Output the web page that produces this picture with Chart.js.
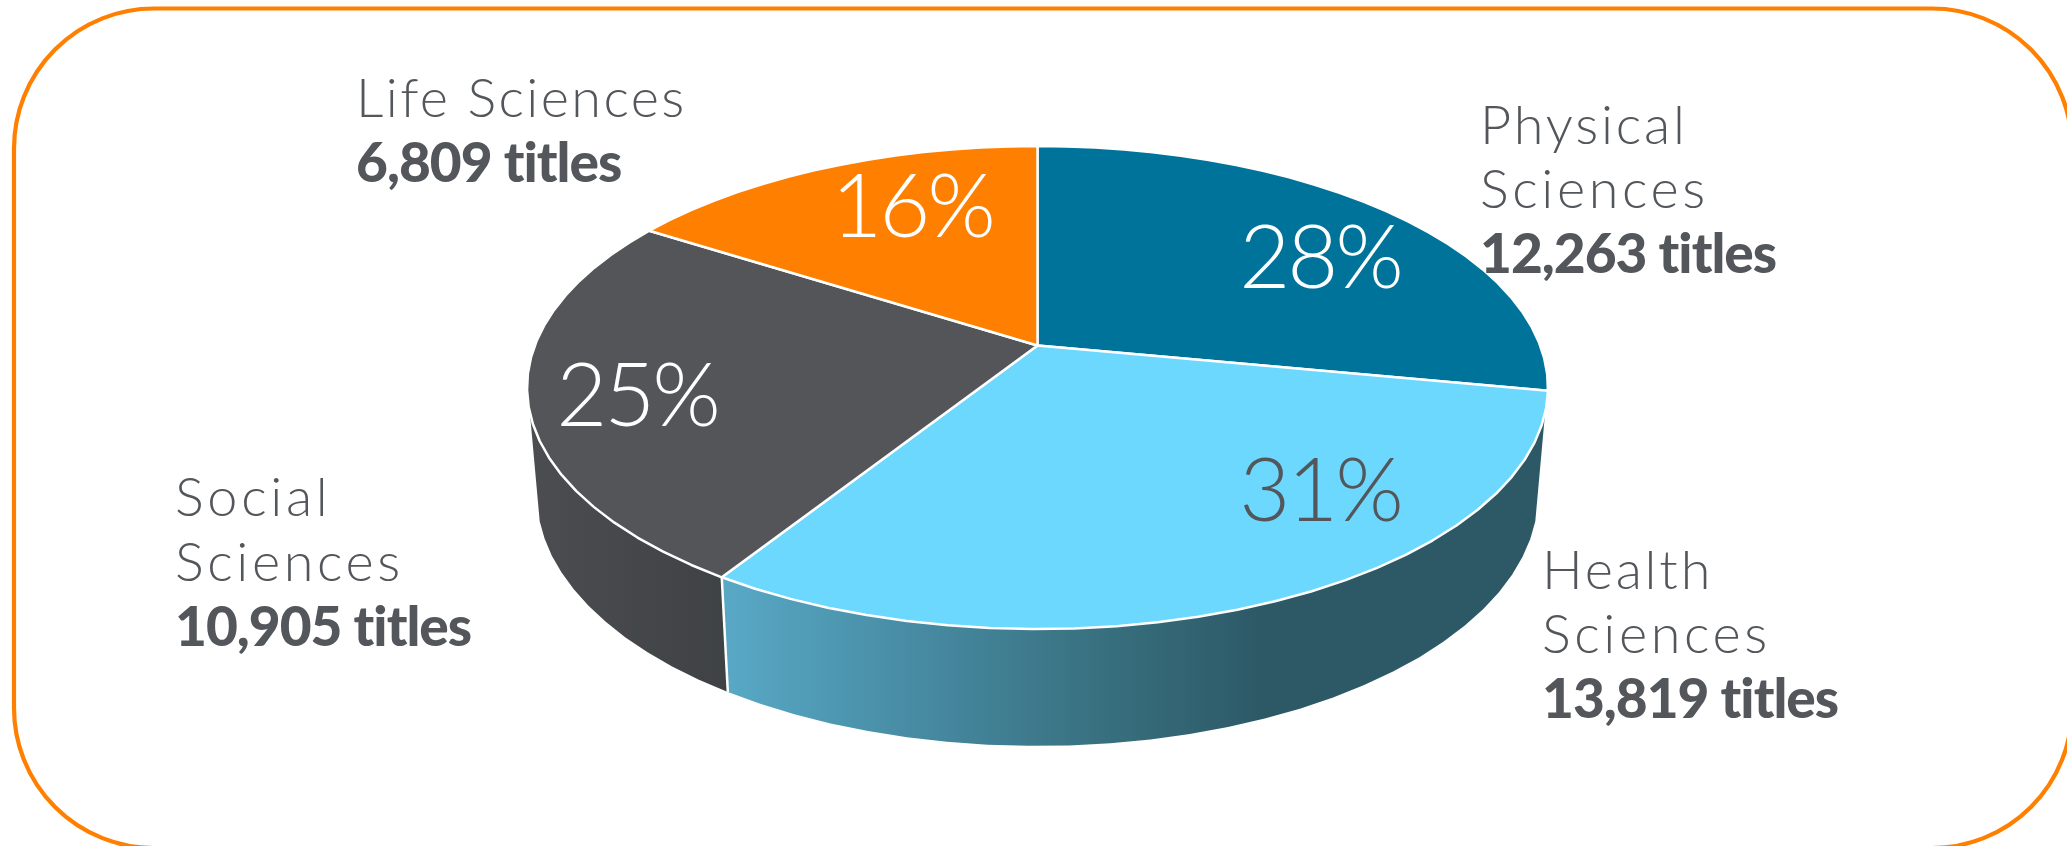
<!DOCTYPE html>
<html>
<head>
<meta charset="utf-8">
<title>Titles by subject area</title>
<style>
  html, body { margin: 0; padding: 0; background: #fff; overflow: hidden; }
  canvas { display: block; }
</style>
<script src="https://cdn.jsdelivr.net/npm/chart.js@4"></script>
</head>
<body>
<canvas id="chart" width="2067" height="846"></canvas>
<script>
// Subject areas, clockwise from twelve o'clock
const categoryLines = [["Physical", "Sciences"], ["Health", "Sciences"], ["Social", "Sciences"], ["Life Sciences"]];
const sharePercent = [28, 31, 25, 16];
const titleCounts = [12263, 13819, 10905, 6809];

const INK = "#53565A";
const sliceColors = ["#00739A", "#6CD8FD", "#535559", "#FF8000"];

// Perspective projection of the pie: unit-circle point -> page pixel.
const topFace = { x: 1037.5, y: 345.5, rx: 502.7, ry: 234.2, k: -0.174 };
const baseRim = { x: 1037.5, y: 451, rx: 493, ry: 243.6, k: -0.174 };
function project(face, angle) {
  const u = Math.cos(angle), v = Math.sin(angle), w = 1 + face.k * v;
  return [face.x + face.rx * u / w, face.y + face.ry * v / w];
}
function traceRim(ctx, face, from, to, first) {
  const steps = Math.max(2, Math.ceil(Math.abs(to - from) / 0.07));
  for (let i = 0; i <= steps; i++) {
    const p = project(face, from + (to - from) * i / steps);
    if (i === 0 && first) ctx.moveTo(p[0], p[1]); else ctx.lineTo(p[0], p[1]);
  }
}

// Arc element that draws its slice on the tilted top face
class PerspectiveArc extends Chart.ArcElement {
  draw(ctx) {
    const o = this.options;
    ctx.save();
    ctx.beginPath();
    ctx.moveTo(topFace.x, topFace.y);
    traceRim(ctx, topFace, this.startAngle, this.endAngle, false);
    ctx.closePath();
    ctx.fillStyle = o.backgroundColor;
    ctx.fill();
    ctx.strokeStyle = o.borderColor;
    ctx.lineWidth = o.borderWidth;
    ctx.lineJoin = "round";
    ctx.stroke();
    ctx.restore();
  }
}
PerspectiveArc.id = "perspectiveArc";

class Pie3DController extends Chart.PieController {}
Pie3DController.id = "pie3d";
Pie3DController.defaults = Object.assign({}, Chart.PieController.defaults, { dataElementType: "perspectiveArc" });

const rad = d => d * Math.PI / 180;

// Outer wall below the front slices, with the rim limits of the visible side
const wallPlugin = {
  id: "pieWalls",
  beforeDatasetsDraw(chart) {
    const ctx = chart.ctx;
    const arcs = chart.getDatasetMeta(0).data;
    const walls = [
      { arc: arcs[1], from: rad(16), to: null, x0: 729, x1: 1260,
        stops: [[0, "#58A8C5"], [0.35, "#478BA3"], [0.7, "#38707F"], [1, "#2D5967"]] },
      { arc: arcs[2], from: null, to: rad(164), x0: 528, x1: 729,
        stops: [[0, "#4B4D50"], [1, "#3F4245"]] }
    ];
    ctx.save();
    walls.forEach(w => {
      const a0 = w.from === null ? w.arc.startAngle : w.from;
      const a1 = w.to === null ? w.arc.endAngle : w.to;
      const g = ctx.createLinearGradient(w.x0, 0, w.x1, 0);
      w.stops.forEach(s => g.addColorStop(s[0], s[1]));
      ctx.beginPath();
      traceRim(ctx, topFace, a0, a1, true);
      traceRim(ctx, baseRim, a1, a0, false);
      ctx.closePath();
      ctx.fillStyle = g;
      ctx.fill();
    });
    // Seam between the two visible walls
    const seam = arcs[1].endAngle;
    const a = project(topFace, seam), b = project(baseRim, seam);
    ctx.beginPath();
    ctx.moveTo(a[0], a[1]);
    ctx.lineTo(b[0], b[1]);
    ctx.strokeStyle = "#FFFFFF";
    ctx.lineWidth = 2.5;
    ctx.stroke();
    ctx.restore();
  }
};

// Rounded orange frame behind everything
const framePlugin = {
  id: "frame",
  beforeDraw(chart) {
    const ctx = chart.ctx;
    ctx.save();
    ctx.beginPath();
    ctx.roundRect(14, 8.5, 2058, 839.5, 140);
    ctx.strokeStyle = "#FF8000";
    ctx.lineWidth = 4.2;
    ctx.stroke();
    ctx.restore();
  }
};

// Percent labels on the slices and name/count captions beside the pie
const percentSpots = [
  { x: 1320, y: 288, color: "#FFFFFF" },
  { x: 1320, y: 521, color: INK },
  { x: 637, y: 426, color: "#FFFFFF" },
  { x: 912, y: 237, color: "#FFFFFF" }
];
const captionSpots = [
  { x: 1480, y: [144, 208, 273], spacing: [2.8, 3.6] },
  { x: 1542, y: [589, 653, 718], spacing: [2.8, 3.6] },
  { x: 175, y: [516, 581, 646], spacing: [3.7, 3.6] },
  { x: 356, y: [117, 182], spacing: [2.4] }
];
const labelPlugin = {
  id: "labels",
  afterDatasetsDraw(chart) {
    const ctx = chart.ctx;
    ctx.save();
    ctx.textBaseline = "alphabetic";
    sharePercent.forEach((p, i) => {
      const s = percentSpots[i];
      ctx.font = "300 88px Lato";
      ctx.letterSpacing = "-3px";
      ctx.textAlign = "center";
      ctx.fillStyle = s.color;
      ctx.fillText(p + "%", s.x, s.y);
    });
    ctx.textAlign = "left";
    ctx.fillStyle = INK;
    categoryLines.forEach((lines, i) => {
      const s = captionSpots[i];
      ctx.font = "300 54px Lato";
      lines.forEach((t, j) => {
        ctx.letterSpacing = s.spacing[j] + "px";
        ctx.fillText(t, s.x, s.y[j]);
      });
      ctx.font = "900 55px Lato";
      ctx.letterSpacing = "-1px";
      ctx.fillText(titleCounts[i].toLocaleString("en-US") + " titles", s.x, s.y[lines.length]);
    });
    ctx.restore();
  }
};

Chart.register(PerspectiveArc, Pie3DController);

new Chart(document.getElementById("chart"), {
  type: "pie3d",
  data: {
    labels: categoryLines.map(l => l.join(" ")),
    datasets: [{
      data: sharePercent,
      backgroundColor: sliceColors,
      borderColor: "#FFFFFF",
      borderWidth: 2.5
    }]
  },
  options: {
    responsive: false,
    animation: false,
    events: [],
    plugins: { legend: { display: false }, tooltip: { enabled: false } }
  },
  plugins: [framePlugin, wallPlugin, labelPlugin]
});
</script>
</body>
</html>
